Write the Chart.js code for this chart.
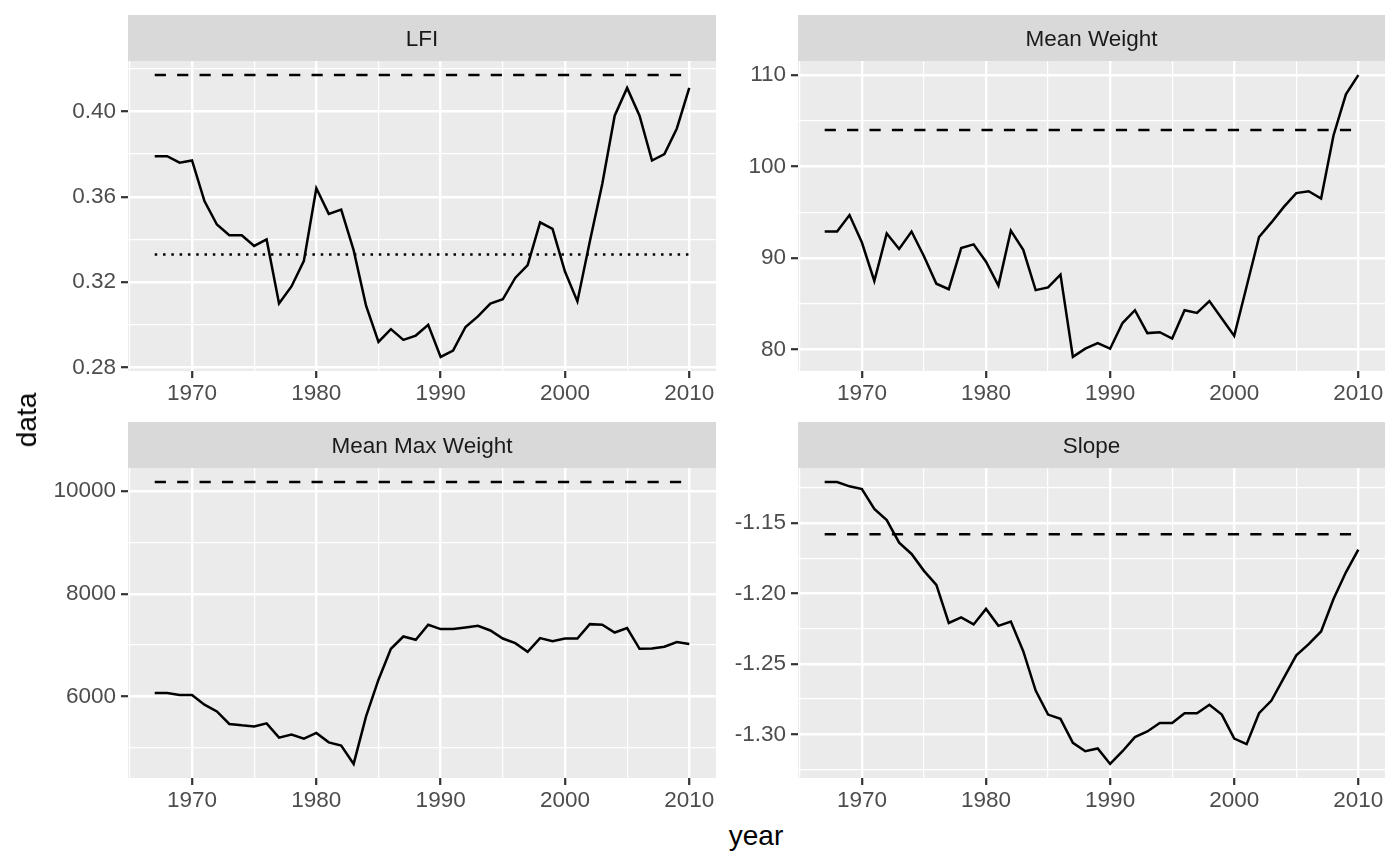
<!DOCTYPE html>
<html>
<head>
<meta charset="utf-8">
<script src="https://cdn.jsdelivr.net/npm/chart.js@4.4.0/dist/chart.umd.min.js"></script>
<style>
    body { margin: 0; background: #ffffff; width: 1400px; height: 865px; position: relative; overflow: hidden; font-family: "Liberation Sans", Arial, sans-serif; }
    canvas { position: absolute; }
    .axis-title { position: absolute; font-size: 28px; line-height: 28px; color: #000000; white-space: nowrap; transform: translate(-50%, -50%); }
    #yTitle { left: 27px; top: 420px; transform: translate(-50%, -50%) rotate(-90deg); }
    #xTitle { left: 756px; top: 836px; }
</style>
</head>
<body>
<canvas id="lfiChart" width="720" height="407" style="left:0px;top:0px"></canvas>
<canvas id="meanWeightChart" width="680" height="407" style="left:720px;top:0px"></canvas>
<canvas id="maxWeightChart" width="720" height="412" style="left:0px;top:407px"></canvas>
<canvas id="slopeChart" width="680" height="412" style="left:720px;top:407px"></canvas>
<div class="axis-title" id="yTitle">data</div>
<div class="axis-title" id="xTitle">year</div>
<script>
// Data
const years = [1967, 1968, 1969, 1970, 1971, 1972, 1973, 1974, 1975, 1976,
               1977, 1978, 1979, 1980, 1981, 1982, 1983, 1984, 1985, 1986,
               1987, 1988, 1989, 1990, 1991, 1992, 1993, 1994, 1995, 1996,
               1997, 1998, 1999, 2000, 2001, 2002, 2003, 2004, 2005, 2006,
               2007, 2008, 2009, 2010];

const lfi = [0.379, 0.379, 0.376, 0.377, 0.358, 0.347, 0.342, 0.342, 0.337, 0.340,
             0.310, 0.318, 0.330, 0.364, 0.352, 0.354, 0.335, 0.309, 0.292, 0.298,
             0.293, 0.295, 0.300, 0.285, 0.288, 0.299, 0.304, 0.310, 0.312, 0.322,
             0.328, 0.348, 0.345, 0.325, 0.311, 0.339, 0.366, 0.398, 0.411, 0.398,
             0.377, 0.380, 0.392, 0.411];

const meanWeight = [92.9, 92.9, 94.7, 91.7, 87.5, 92.7, 91.0, 92.9, 90.2, 87.2,
                    86.6, 91.1, 91.5, 89.6, 87.0, 93.0, 90.9, 86.5, 86.8, 88.2,
                    79.2, 80.1, 80.7, 80.1, 82.9, 84.3, 81.8, 81.9, 81.2, 84.3,
                    84.0, 85.3, 83.4, 81.5, 86.9, 92.3, 93.9, 95.6, 97.1, 97.3,
                    96.5, 103.4, 107.9, 110.0];

const meanMaxWeight = [6066, 6066, 6027, 6027, 5839, 5708, 5463, 5436, 5416, 5475,
                       5197, 5255, 5177, 5288, 5105, 5041, 4685, 5611, 6325, 6928,
                       7167, 7103, 7395, 7311, 7311, 7342, 7375, 7284, 7128, 7038,
                       6870, 7136, 7077, 7128, 7128, 7408, 7395, 7245, 7331, 6928,
                       6934, 6967, 7058, 7019];

const slope = [-1.121, -1.121, -1.124, -1.126, -1.140, -1.148, -1.164, -1.172, -1.184, -1.194,
               -1.221, -1.217, -1.222, -1.211, -1.223, -1.220, -1.241, -1.269, -1.286, -1.289,
               -1.306, -1.312, -1.310, -1.321, -1.312, -1.302, -1.298, -1.292, -1.292, -1.285,
               -1.285, -1.279, -1.286, -1.303, -1.307, -1.285, -1.276, -1.260, -1.244, -1.236,
               -1.227, -1.204, -1.185, -1.169];

// reference levels (dashed) and target (dotted)
const lfiRef = 0.417;
const lfiTarget = 0.333;
const meanWeightRef = 104.0;
const meanMaxWeightRef = 10175;
const slopeRef = -1.158;

// axis breaks
const xBreaks = [1970, 1980, 1990, 2000, 2010];
const lfiBreaks = [0.28, 0.32, 0.36, 0.40];
const meanWeightBreaks = [80, 90, 100, 110];
const meanMaxWeightBreaks = [6000, 8000, 10000];
const slopeBreaks = [-1.30, -1.25, -1.20, -1.15];

const FONT = '"Liberation Sans", Arial, sans-serif';

function expandRange(values) {
    const lo = Math.min(...values), hi = Math.max(...values);
    const pad = (hi - lo) * 0.05;
    return [lo - pad, hi + pad];
}

// ggplot style minor breaks: halfway between majors, plus one beyond each end
function withMinor(breaks, lo, hi) {
    const step = breaks[1] - breaks[0];
    const all = breaks.slice();
    breaks.forEach(b => { all.push(b - step / 2); all.push(b + step / 2); });
    const uniq = [];
    all.sort((a, b) => a - b).forEach(v => {
        if (v >= lo && v <= hi && !uniq.some(u => Math.abs(u - v) < 1e-9)) uniq.push(v);
    });
    return uniq;
}

function isMajor(breaks, v) {
    return breaks.some(b => Math.abs(b - v) < 1e-9);
}

const facetStrip = {
    id: 'facetStrip',
    beforeDraw(chart, args, opts) {
        const { ctx, chartArea: a } = chart;
        ctx.save();
        ctx.fillStyle = '#ebebeb';
        ctx.fillRect(a.left, a.top, a.right - a.left, a.bottom - a.top);
        ctx.fillStyle = '#d9d9d9';
        ctx.fillRect(a.left, a.top - 46, a.right - a.left, 46);
        ctx.fillStyle = '#1a1a1a';
        ctx.font = '22.5px ' + FONT;
        ctx.textAlign = 'center';
        ctx.textBaseline = 'alphabetic';
        ctx.fillText(opts.text, (a.left + a.right) / 2, a.top - 15);
        ctx.restore();
    }
};

function makePanel(canvasId, title, values, refs, yBreaks, decimals, geom) {
    const xRange = expandRange(years);
    const yRange = expandRange(values.concat(refs.map(r => r.value)));
    const xGrid = withMinor(xBreaks, xRange[0], xRange[1]);
    const yGrid = withMinor(yBreaks, yRange[0], yRange[1]);

    const datasets = [{
        data: years.map((yr, i) => ({ x: yr, y: values[i] })),
        borderColor: '#000000',
        borderWidth: 2.5,
        pointRadius: 0,
        tension: 0
    }];
    refs.forEach(r => {
        datasets.push({
            data: [{ x: years[0], y: r.value }, { x: years[years.length - 1], y: r.value }],
            borderColor: '#000000',
            borderWidth: 2.5,
            borderDash: r.dash,
            pointRadius: 0
        });
    });

    const gridOpts = (breaks) => ({
        color: '#ffffff',
        lineWidth: c => (c.tick && isMajor(breaks, c.tick.value)) ? 2.4 : 1.2,
        tickLength: 7,
        tickWidth: 2.2,
        tickColor: c => (c.tick && isMajor(breaks, c.tick.value)) ? '#333333' : 'rgba(0,0,0,0)'
    });

    return new Chart(document.getElementById(canvasId).getContext('2d'), {
        type: 'line',
        data: { datasets: datasets },
        plugins: [facetStrip],
        options: {
            responsive: false,
            animation: false,
            devicePixelRatio: 1,
            layout: { padding: geom.padding },
            plugins: {
                legend: { display: false },
                tooltip: { enabled: false },
                facetStrip: { text: title }
            },
            scales: {
                x: {
                    type: 'linear',
                    min: xRange[0],
                    max: xRange[1],
                    afterBuildTicks: s => { s.ticks = xGrid.map(v => ({ value: v })); },
                    afterFit: s => { s.height = geom.xHeight; },
                    grid: gridOpts(xBreaks),
                    border: { display: false },
                    ticks: {
                        autoSkip: false,
                        maxRotation: 0,
                        padding: 2,
                        color: '#4d4d4d',
                        font: { family: FONT, size: 22.5 },
                        callback: v => isMajor(xBreaks, v) ? String(Math.round(v)) : ''
                    }
                },
                y: {
                    type: 'linear',
                    min: yRange[0],
                    max: yRange[1],
                    afterBuildTicks: s => { s.ticks = yGrid.map(v => ({ value: v })); },
                    afterFit: s => { s.width = geom.yWidth; },
                    grid: gridOpts(yBreaks),
                    border: { display: false },
                    ticks: {
                        autoSkip: false,
                        padding: 5,
                        color: '#4d4d4d',
                        font: { family: FONT, size: 22.5 },
                        callback: v => isMajor(yBreaks, v) ? v.toFixed(decimals) : ''
                    }
                }
            }
        }
    });
}

const dashed = [11.2, 11.2];
const dotted = [2.5, 5.8];

makePanel('lfiChart', 'LFI', lfi,
    [{ value: lfiRef, dash: dashed }, { value: lfiTarget, dash: dotted }],
    lfiBreaks, 2,
    { padding: { left: 0, top: 61, right: 4, bottom: 0 }, yWidth: 128, xHeight: 36 });

makePanel('meanWeightChart', 'Mean Weight', meanWeight,
    [{ value: meanWeightRef, dash: dashed }],
    meanWeightBreaks, 0,
    { padding: { left: 0, top: 61, right: 15, bottom: 0 }, yWidth: 78, xHeight: 36 });

makePanel('maxWeightChart', 'Mean Max Weight', meanMaxWeight,
    [{ value: meanMaxWeightRef, dash: dashed }],
    meanMaxWeightBreaks, 0,
    { padding: { left: 0, top: 61, right: 4, bottom: 0 }, yWidth: 128, xHeight: 41 });

makePanel('slopeChart', 'Slope', slope,
    [{ value: slopeRef, dash: dashed }],
    slopeBreaks, 2,
    { padding: { left: 0, top: 61, right: 15, bottom: 0 }, yWidth: 78, xHeight: 41 });
</script>
</body>
</html>
